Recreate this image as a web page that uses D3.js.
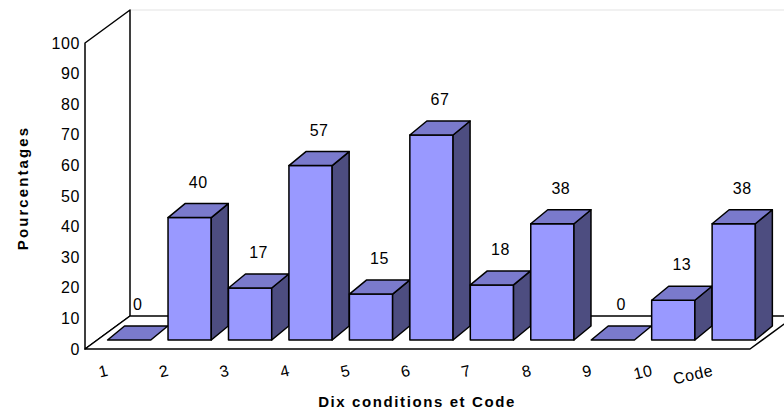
<!DOCTYPE html>
<html>
<head>
<meta charset="utf-8">
<script src="https://cdn.jsdelivr.net/npm/d3@7/dist/d3.min.js"></script>
<style>
  html, body { margin: 0; padding: 0; background: #fff; }
  svg { display: block; font-family: Arial, "Liberation Sans", sans-serif; }
</style>
</head>
<body>
<svg id="chart" width="784" height="409"></svg>
<script>
// Percentages for the ten conditions and the Code
const categories = ["1", "2", "3", "4", "5", "6", "7", "8", "9", "10", "Code"];
const values = [0, 40, 17, 57, 15, 67, 18, 38, 0, 13, 38];
const yTicks = [0, 10, 20, 30, 40, 50, 60, 70, 80, 90, 100];
const yTitle = "Pourcentages";
const xTitle = "Dix conditions et Code";

const svg = d3.select("#chart");

// Oblique projection: floor front edge, full depth, bar depth
const floorLeft = 85, floorRight = 750, floorFrontY = 349;
const depthX = 45, depthY = 33;          // wall / floor depth
const barShiftX = 12.3, barShiftY = 9;   // bars sit slightly behind the front edge
const barDX = 17, barDY = 14;            // bar depth

const x = d3.scaleBand().domain(categories).range([floorLeft, floorRight]);
const y = d3.scaleLinear().domain([0, 100]).range([floorFrontY, 43]);

const colFront = "#9999ff", colTop = "#7a7acc", colSide = "#4d4d80";
const line = d3.line();

// Top edge of the back wall
svg.append("line")
  .attr("x1", floorLeft + depthX).attr("y1", y(100) - depthY)
  .attr("x2", 784).attr("y2", y(100) - depthY)
  .attr("stroke", "#e4e4e4").attr("stroke-width", 1.2);

// Left wall
svg.append("path")
  .attr("d", line([
    [floorLeft, y(0)], [floorLeft, y(100)],
    [floorLeft + depthX, y(100) - depthY], [floorLeft + depthX, y(0) - depthY]
  ]) + "Z")
  .attr("fill", "#fff").attr("stroke", "#000").attr("stroke-width", 1.5)
  .attr("stroke-linejoin", "round");

// Floor
svg.append("path")
  .attr("d", line([
    [floorLeft, y(0)], [floorRight, y(0)],
    [floorRight + depthX, y(0) - depthY], [floorLeft + depthX, y(0) - depthY]
  ]) + "Z")
  .attr("fill", "#fff").attr("stroke", "#000").attr("stroke-width", 1.5)
  .attr("stroke-linejoin", "round");

// Y tick labels
svg.append("g").selectAll("text").data(yTicks).join("text")
  .attr("x", 80).attr("y", d => y(d))
  .attr("text-anchor", "end").attr("dominant-baseline", "central")
  .attr("font-size", 16).attr("letter-spacing", 0.6)
  .text(d => d);

// Bars
const bw = x.bandwidth();
const bars = svg.append("g").selectAll("g").data(categories.map((c, i) => ({ c, v: values[i] }))).join("g");

bars.each(function (d) {
  const g = d3.select(this);
  const x0 = x(d.c) + barShiftX + bw * 0.17;
  const x1 = x0 + bw * 0.715;
  const yb = y(0) - barShiftY;
  const yt = y(d.v) - barShiftY;
  if (d.v > 0) {
    // front face
    g.append("path").attr("d", line([[x0, yb], [x0, yt], [x1, yt], [x1, yb]]) + "Z")
      .attr("fill", colFront);
    // side face
    g.append("path").attr("d", line([[x1, yb], [x1, yt], [x1 + barDX, yt - barDY], [x1 + barDX, yb - barDY]]) + "Z")
      .attr("fill", colSide);
  }
  // top face
  g.append("path").attr("d", line([[x0, yt], [x0 + barDX, yt - barDY], [x1 + barDX, yt - barDY], [x1, yt]]) + "Z")
    .attr("fill", colTop);
  g.selectAll("path").attr("stroke", "#000").attr("stroke-width", 1.5).attr("stroke-linejoin", "round");

  // value label
  g.append("text")
    .attr("x", (x0 + x1) / 2 + barDX / 2)
    .attr("y", yt - barDY - 21.5)
    .attr("text-anchor", "middle").attr("dominant-baseline", "central")
    .attr("font-size", 16).attr("letter-spacing", 0.5)
    .text(d.v);
});

// Category labels along the floor front edge
svg.append("g").selectAll("text").data(categories).join("text")
  .attr("transform", d => `translate(${x(d) + 23},${370}) rotate(-13)`)
  .attr("text-anchor", "end").attr("dominant-baseline", "central")
  .attr("font-size", 16).attr("letter-spacing", 0.5)
  .text(d => d);

// Axis titles
svg.append("text")
  .attr("transform", "translate(22,188) rotate(-90)")
  .attr("text-anchor", "middle").attr("dominant-baseline", "central")
  .attr("font-size", 15).attr("font-weight", "bold").attr("letter-spacing", 2.1)
  .text(yTitle);

svg.append("text")
  .attr("x", 417).attr("y", 401)
  .attr("text-anchor", "middle").attr("dominant-baseline", "central")
  .attr("font-size", 15).attr("font-weight", "bold").attr("letter-spacing", 1.6)
  .text(xTitle);
</script>
</body>
</html>
